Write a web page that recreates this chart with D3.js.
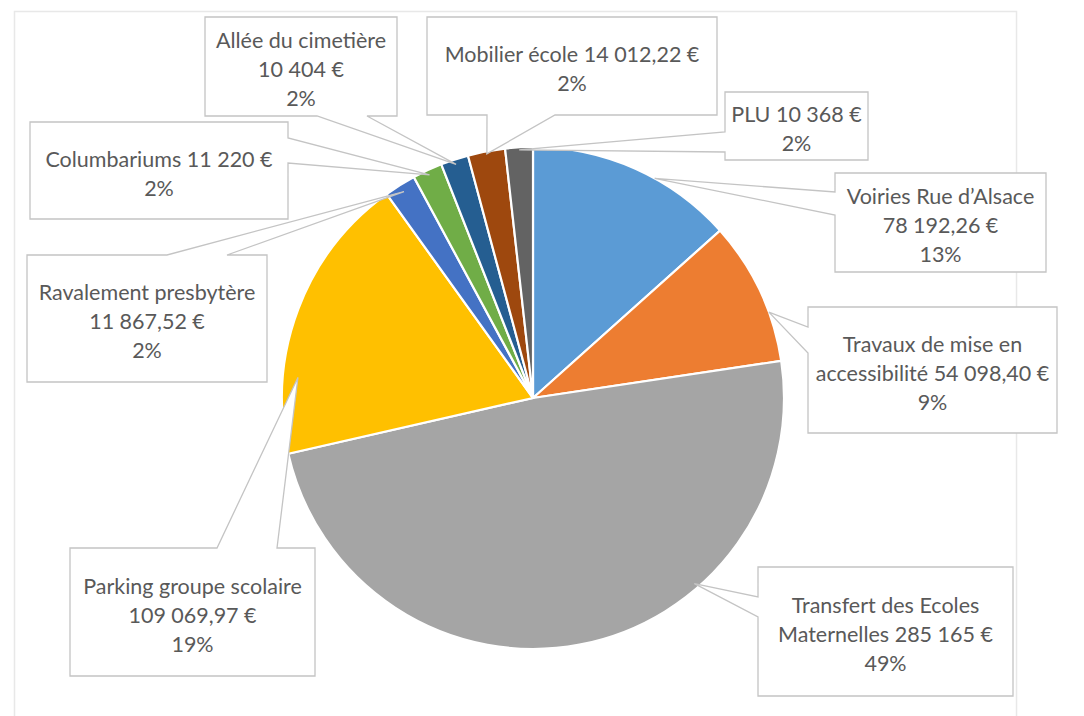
<!DOCTYPE html>
<html>
<head>
<meta charset="utf-8">
<script src="https://cdn.jsdelivr.net/npm/d3@7"></script>
<style>
  body { margin: 0; background: #fff; }
  svg { display: block; }
</style>
</head>
<body>
<script>
// Data
const categories = [
  "Voiries Rue d’Alsace",
  "Travaux de mise en accessibilité",
  "Transfert des Ecoles Maternelles",
  "Parking groupe scolaire",
  "Ravalement presbytère",
  "Columbariums",
  "Allée du cimetière",
  "Mobilier école",
  "PLU"
];
const amounts = [78192.26, 54098.40, 285165, 109069.97, 11867.52, 11220, 10404, 14012.22, 10368];
const colors = ["#5B9BD5", "#ED7D31", "#A5A5A5", "#FFC000", "#4472C4", "#70AD47", "#255E91", "#9E480E", "#636363"];

// Callout boxes: [x0, y0, x1, y1], side of the pointer, pointer base, tip angle override
const callouts = [
  { box: [835, 173, 1046, 272], side: "left",   base: [192, 215], tipDeg: 29,  tipR: 1.0 },
  { box: [808, 307, 1057, 433], side: "left",   base: [327, 353], tipDeg: 70,  tipR: 1.0 },
  { box: [758, 567, 1013, 696], side: "left",   base: [597, 617], tipDeg: 139, tipR: 0.98 },
  { box: [70, 548, 315, 676],   side: "top",    base: [217, 277], tipDeg: 275, tipR: 0.94 },
  { box: [27, 255, 267, 382],   side: "top",    base: [167, 227], tipR: 0.97 },
  { box: [30, 122, 288, 219],   side: "right",  base: [138, 163], tipR: 0.98 },
  { box: [205, 17, 397, 116],   side: "bottom", base: [317, 367], tipR: 0.98 },
  { box: [427, 17, 717, 115],   side: "bottom", base: [487, 555], tipR: 0.99 },
  { box: [725, 92, 868, 160],   side: "left",   base: [132, 152], tipR: 0.99 }
];

const W = 1084, H = 716;
const cx = 533, cy = 398, R = 251;
const fontFamily = "Lato, 'Open Sans', sans-serif";
const fontSize = 21.5;
const lineH = 29;

const svg = d3.select("body").append("svg")
  .attr("width", W)
  .attr("height", H);

// faint chart area border
svg.append("rect")
  .attr("x", 14.5).attr("y", 11.5)
  .attr("width", 1002).attr("height", 720)
  .attr("fill", "none")
  .attr("stroke", "#E8E8E8")
  .attr("stroke-width", 1.5);

const total = d3.sum(amounts);
const data = categories.map((c, i) => ({ name: c, value: amounts[i], color: colors[i], i: i }));

const pie = d3.pie().value(d => d.value).sort(null);
const arcs = pie(data);
const arc = d3.arc().innerRadius(0).outerRadius(R);

const pieG = svg.append("g").attr("transform", `translate(${cx},${cy})`);
pieG.selectAll("path")
  .data(arcs)
  .enter()
  .append("path")
  .attr("d", arc)
  .attr("fill", d => d.data.color)
  .attr("stroke", "#fff")
  .attr("stroke-width", 2.2);

// number formatting, french style
const fr = d3.formatLocale({ decimal: ",", thousands: "\u00a0", grouping: [3], currency: ["", "\u00a0€"] });
function money(v) {
  return Number.isInteger(v) ? fr.format(",")(v) + "\u00a0€" : fr.format(",.2f")(v) + "\u00a0€";
}
const pct = v => Math.round(v / total * 100) + "%";

function tipPoint(a, c) {
  let ang = c.tipDeg !== undefined ? c.tipDeg * Math.PI / 180 : (a.startAngle + a.endAngle) / 2;
  let r = R * (c.tipR || 1);
  return [cx + r * Math.sin(ang), cy - r * Math.cos(ang)];
}

function calloutPath(c, tip) {
  let [x0, y0, x1, y1] = c.box, [a, b] = c.base;
  let p = d3.path();
  if (c.side === "top") {
    p.moveTo(x0, y0); p.lineTo(a, y0); p.lineTo(tip[0], tip[1]); p.lineTo(b, y0);
    p.lineTo(x1, y0); p.lineTo(x1, y1); p.lineTo(x0, y1);
  } else if (c.side === "right") {
    p.moveTo(x0, y0); p.lineTo(x1, y0); p.lineTo(x1, a); p.lineTo(tip[0], tip[1]); p.lineTo(x1, b);
    p.lineTo(x1, y1); p.lineTo(x0, y1);
  } else if (c.side === "bottom") {
    p.moveTo(x0, y0); p.lineTo(x1, y0); p.lineTo(x1, y1); p.lineTo(b, y1);
    p.lineTo(tip[0], tip[1]); p.lineTo(a, y1); p.lineTo(x0, y1);
  } else {
    p.moveTo(x0, y0); p.lineTo(x1, y0); p.lineTo(x1, y1); p.lineTo(x0, y1);
    p.lineTo(x0, b); p.lineTo(tip[0], tip[1]); p.lineTo(x0, a);
  }
  p.closePath();
  return p.toString();
}

// measuring text for word wrap
const measure = svg.append("text")
  .attr("font-family", fontFamily)
  .attr("font-size", fontSize)
  .attr("visibility", "hidden");
function textWidth(s) {
  measure.text(s);
  return measure.node().getComputedTextLength();
}
function wrap(s, maxW) {
  let words = s.split(" "), lines = [], cur = "";
  words.forEach(w => {
    let test = cur ? cur + " " + w : w;
    if (cur && textWidth(test) > maxW) { lines.push(cur); cur = w; }
    else cur = test;
  });
  if (cur) lines.push(cur);
  return lines;
}

const labelG = svg.append("g");
arcs.forEach((a, i) => {
  let c = callouts[i];
  let tip = tipPoint(a, c);
  labelG.append("path")
    .attr("d", calloutPath(c, tip))
    .attr("fill", "#fff")
    .attr("stroke", "#C4C4C4")
    .attr("stroke-width", 1.3)
    .attr("stroke-linejoin", "miter");

  let [x0, y0, x1, y1] = c.box;
  let lines = wrap(a.data.name + " " + money(a.data.value), x1 - x0 - 4);
  lines.push(pct(a.data.value));
  let midY = (y0 + y1) / 2 + 3;
  let startY = midY - (lines.length - 1) * lineH / 2;
  let t = labelG.append("text")
    .attr("font-family", fontFamily)
    .attr("font-size", fontSize)
    .attr("fill", "#595959")
    .attr("text-anchor", "middle");
  lines.forEach((l, k) => {
    t.append("tspan")
      .attr("x", (x0 + x1) / 2)
      .attr("y", startY + k * lineH)
      .attr("dy", "0.35em")
      .text(l);
  });
});
measure.remove();
</script>
</body>
</html>
